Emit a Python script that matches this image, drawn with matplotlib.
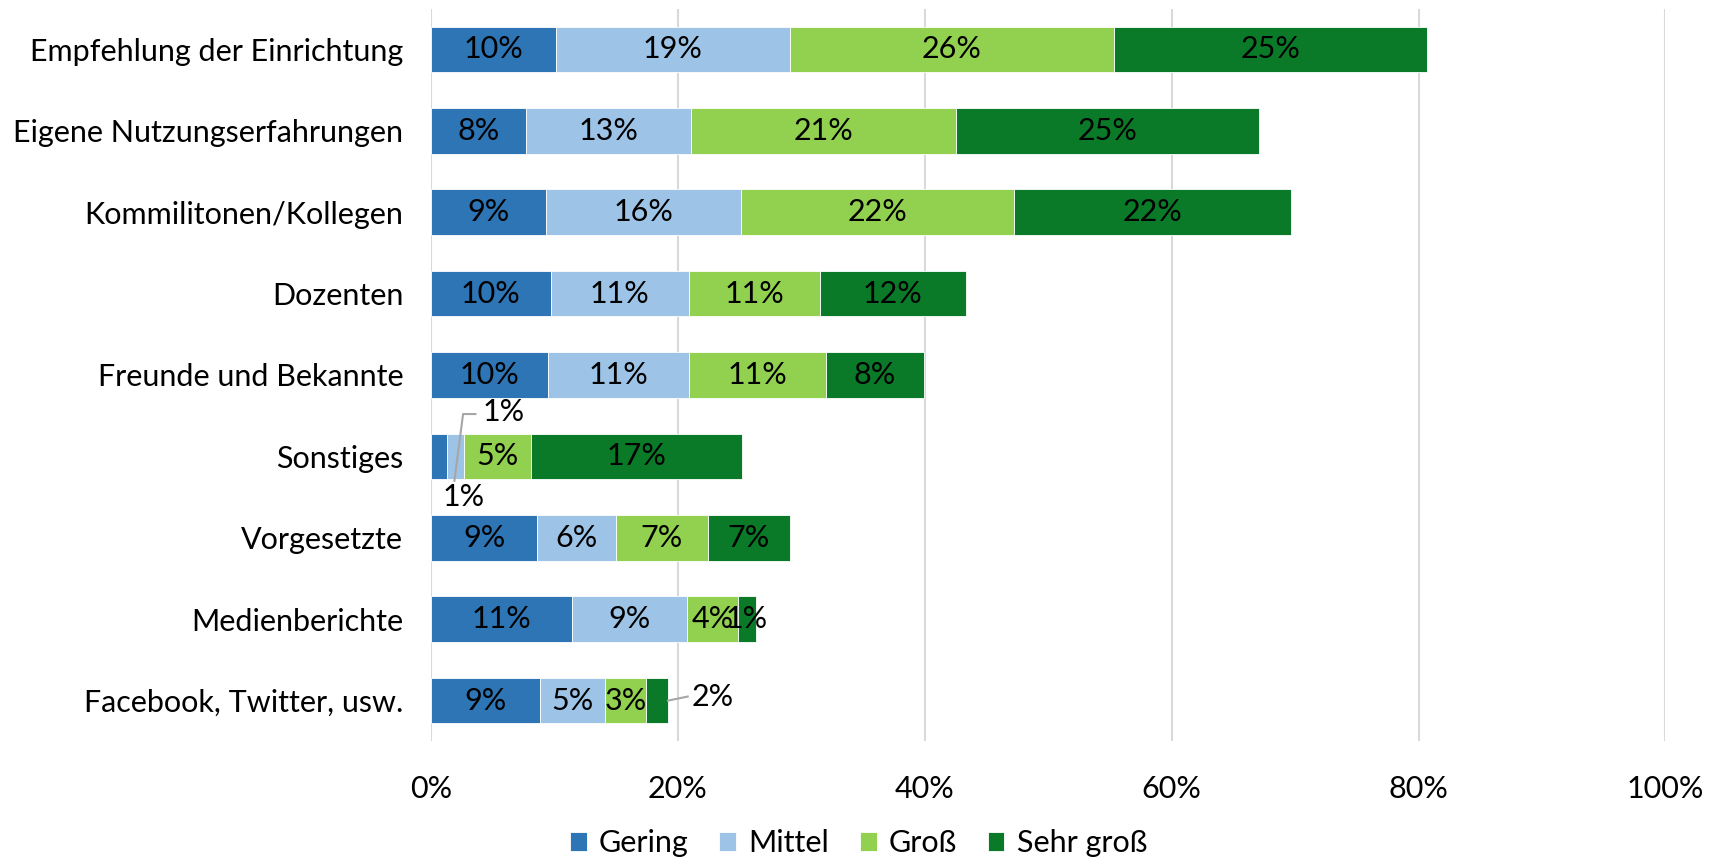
import matplotlib
matplotlib.use("Agg")
import matplotlib.pyplot as plt
import numpy as np

plt.rcParams['font.family'] = ['Lato', 'DejaVu Sans']

categories = ["Empfehlung der Einrichtung", "Eigene Nutzungserfahrungen", "Kommilitonen/Kollegen",
              "Dozenten", "Freunde und Bekannte", "Sonstiges", "Vorgesetzte", "Medienberichte",
              "Facebook, Twitter, usw."]
series = ["Gering", "Mittel", "Groß", "Sehr groß"]
gering = [10.1, 7.7, 9.3, 9.7, 9.5, 1.3, 8.6, 11.4, 8.8]
mittel = [19.0, 13.4, 15.8, 11.2, 11.4, 1.4, 6.4, 9.3, 5.3]
gross = [26.2, 21.4, 22.1, 10.6, 11.1, 5.4, 7.4, 4.2, 3.3]
sehr_gross = [25.4, 24.6, 22.5, 11.8, 7.9, 17.1, 6.7, 1.4, 1.8]
colors = ["#2E75B6", "#9DC3E6", "#92D050", "#0B7A28"]

data = np.array([gering, mittel, gross, sehr_gross])

fig = plt.figure(figsize=(17.17, 8.59), dpi=100)
ax = fig.add_axes([0.251, 0.137, 0.719, 0.853])
y = np.arange(len(categories))
fs = 22

left = np.zeros(len(categories))
for i, name in enumerate(series):
    vals = data[i]
    ax.barh(y, vals, left=left, height=0.56, color=colors[i], label=name,
            edgecolor="white", linewidth=0.6, zorder=3)
    for j, v in enumerate(vals):
        cx = left[j] + v / 2
        txt = f"{round(v):.0f}%"
        if categories[j] == "Sonstiges" and i < 2:
            continue
        if categories[j] == "Facebook, Twitter, usw." and i == 3:
            continue
        ax.text(cx, y[j], txt, ha="center", va="center", fontsize=fs, color="black", zorder=5)
    left = left + vals

# Sonstiges: small segments labelled outside
s = categories.index("Sonstiges")
g_c = gering[s] / 2
m_c = gering[s] + mittel[s] / 2
ax.plot([m_c - 0.1, m_c + 0.6, m_c + 1.6], [y[s] + 0.3, y[s] - 0.52, y[s] - 0.52],
        color="#A6A6A6", lw=1.5, zorder=4)
ax.text(m_c + 2.2, y[s] - 0.54, f"{round(mittel[s]):.0f}%", ha="left", va="center", fontsize=fs)
ax.text(g_c + 2.0, y[s] + 0.5, f"{round(gering[s]):.0f}%", ha="center", va="center", fontsize=fs)

# Facebook: last segment labelled outside
f = categories.index("Facebook, Twitter, usw.")
end = gering[f] + mittel[f] + gross[f] + sehr_gross[f]
ax.plot([end, end + 1.6], [y[f], y[f] - 0.05], color="#A6A6A6", lw=1.5, zorder=4)
ax.text(end + 1.9, y[f] - 0.05, f"{round(sehr_gross[f]):.0f}%", ha="left", va="center", fontsize=fs)

ax.set_xlim(0, 100)
ax.set_ylim(len(categories) - 0.5, -0.5)
ax.set_yticks(y)
ax.set_yticklabels(categories, fontsize=fs)
ax.set_xticks(np.arange(0, 101, 20))
ax.set_xticklabels([f"{t}%" for t in range(0, 101, 20)], fontsize=fs)
ax.tick_params(axis="y", length=0, pad=20)
ax.tick_params(axis="x", length=0, pad=24)
ax.xaxis.grid(True, color="#D9D9D9", lw=1.5, zorder=0)
for sp in ax.spines.values():
    sp.set_visible(False)

fig.legend(loc="lower center", bbox_to_anchor=(0.5, -0.03), ncol=4, frameon=False, fontsize=fs,
           handlelength=0.55, handleheight=0.55, handletextpad=0.4, columnspacing=1.0)

fig.savefig("out.png", dpi=100)
